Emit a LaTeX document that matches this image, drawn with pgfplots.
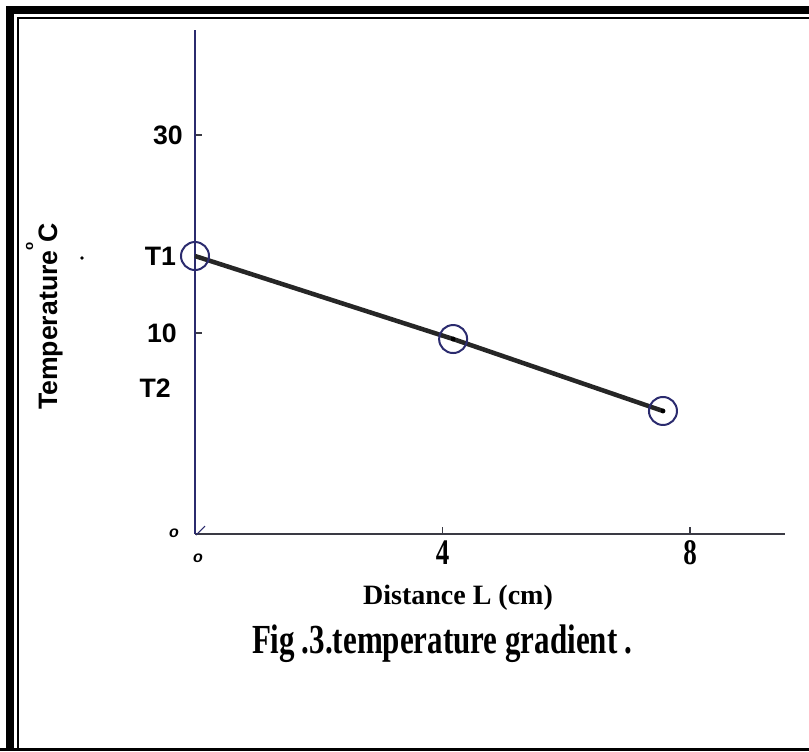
\documentclass[border=0pt]{standalone}
\usepackage{fontspec}
\setmainfont{Liberation Serif}
\newfontfamily\arial{Liberation Sans}
\newfontfamily\timesb{Liberation Serif}[UprightFont={* Bold}]
\newfontfamily\timesbc{Liberation Serif}[UprightFont={* Bold}, FakeStretch=0.75]
\usepackage{pgfplots}
\pgfplotsset{compat=1.18}
\definecolor{navy}{HTML}{2B2B6E}
\definecolor{axgray}{HTML}{3A3A44}
\definecolor{linegray}{HTML}{262626}

\begin{document}
\begin{tikzpicture}[x=0.75pt,y=0.75pt]
\useasboundingbox (0,0) rectangle (809,751);
% frame
\fill[black] (6,737) rectangle (809,745);
\fill[black] (6,0) rectangle (14,745);
\fill[black] (17,0) rectangle (19,734);
\fill[black] (17,732) rectangle (809,734);
\fill[black] (0,0) rectangle (809,3.5);

\begin{axis}[
 at={(146.25pt,162.75pt)}, anchor=south west,
 x=46.425pt, y=15.075pt,
 xmin=0, xmax=9.53, ymin=0, ymax=25.07,
 axis lines=left,
 axis line style={-},
 x axis line style={draw=axgray, line width=1.5pt},
 y axis line style={draw=navy, line width=1.1pt},
 clip=false,
 xtick={4,8}, xticklabels={4,8},
 ytick={10,19.85}, yticklabels={10\hspace*{4.5pt},30},
 extra y ticks={13.8,7.26},
 extra y tick labels={T1\hspace*{5pt},T2\hspace*{9pt}},
 extra y tick style={major tick length=0pt},
 tick align=inside,
 major tick length=5pt,
 tick style={line width=1.2pt, color=axgray},
 xticklabel style={font=\timesbc\fontsize{27pt}{29pt}\selectfont, anchor=north, inner sep=0pt, yshift=-5pt},
 yticklabel style={font=\arial\bfseries\fontsize{20pt}{22pt}\selectfont, anchor=east, inner sep=0pt, xshift=-9pt},
]
\addplot[color=linegray, line width=3.4pt, mark=o, mark size=10.5pt,
  mark options={draw=navy, line width=1.5pt, fill=none}]
  coordinates {(0,13.83) (4.17,9.70) (7.56,6.12)};
\addplot[only marks, mark=*, mark size=1.6pt, color=black]
  coordinates {(4.17,9.70) (7.56,6.12)};
\end{axis}

\draw[navy, line width=0.8pt] (196,216) -- (205,225);
\node[rotate=90, anchor=base, font=\arial\bfseries\fontsize{20pt}{22pt}\selectfont]
  at (57,434.5) {Temperature\raisebox{18pt}{\fontsize{10pt}{10pt}\selectfont o}C};
\fill (82,493) circle (1.8);
\node[font=\arial\bfseries\itshape\fontsize{12pt}{12pt}\selectfont] at (174,218) {o};
\node[font=\arial\bfseries\itshape\fontsize{12pt}{12pt}\selectfont] at (198,193) {o};
\node[anchor=base, font=\timesb\fontsize{21pt}{23pt}\selectfont] at (458,147) {Distance L (cm)};
\node[anchor=base, font=\timesbc\fontsize{31pt}{33pt}\selectfont] at (442,98) {Fig\,.3.temperature gradient\,.};
\end{tikzpicture}
\end{document}
